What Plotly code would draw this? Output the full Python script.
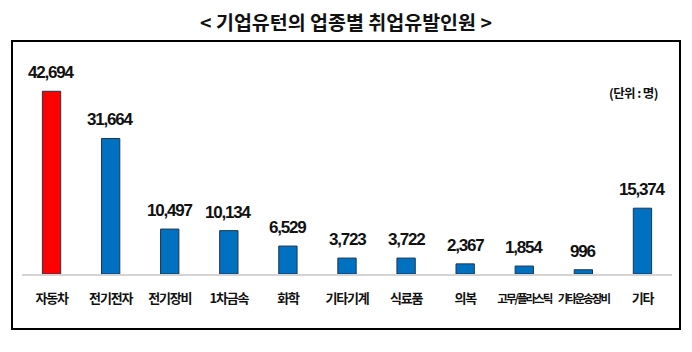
import plotly.graph_objects as go

categories = ["자동차", "전기전자", "전기장비", "1차금속", "화학", "기타기계",
              "식료품", "의복", "고무/플라스틱", "기타운송장비", "기타"]
values = [42694, 31664, 10497, 10134, 6529, 3723, 3722, 2367, 1854, 996, 15374]
bar_colors = ["#FF0000"] + ["#0070C0"] * 10
title_text = "&lt; 기업유턴의 업종별 취업유발인원 &gt;"
unit_text = "(단위 : 명)"

KFONT = "Noto Sans CJK KR"
NUMFONT = "Liberation Sans, Arial, sans-serif"

ticktext = []
for c in categories:
    if len(c) >= 6:
        ticktext.append(f'<span style="font-size:11.5px;letter-spacing:-2px">{c}</span>')
    else:
        ticktext.append(f'<span style="letter-spacing:-1.2px">{c}</span>')

fig = go.Figure()
fig.add_trace(go.Bar(
    x=categories, y=values, width=0.31,
    marker=dict(color=bar_colors, line=dict(color="#1F3550", width=1)),
    hoverinfo="skip",
))

for c, v in zip(categories, values):
    fig.add_annotation(x=c, y=v,
                       text=f'<span style="letter-spacing:-1.2px">{v:,}</span>',
                       showarrow=False, yanchor="bottom", yshift=7,
                       font=dict(family=NUMFONT, size=17, color="#111111", weight="bold"))

fig.add_annotation(xref="paper", yref="paper", x=(633 - 22) / 650, y=(274 - 92) / 214,
                   text=f'<span style="letter-spacing:-0.6px">{unit_text}</span>',
                   showarrow=False, xanchor="center", yanchor="middle",
                   font=dict(family=KFONT, size=12.5, color="#111111", weight="bold"))

# outer frame
fig.add_shape(type="rect", xref="paper", yref="paper",
              x0=(12 - 22) / 650, x1=(680 - 22) / 650,
              y0=(274 - 329) / 214, y1=(274 - 41) / 214,
              line=dict(color="#000000", width=2), fillcolor="rgba(0,0,0,0)", layer="below")

fig.update_layout(
    width=692, height=352,
    margin=dict(l=22, r=20, t=60, b=78),
    paper_bgcolor="white", plot_bgcolor="white",
    showlegend=False,
    title=dict(text=title_text, x=0.5, xanchor="center", y=1 - 23 / 352, yanchor="middle",
               yref="container",
               font=dict(family=KFONT, size=19.5, color="#111111", weight="bold")),
    xaxis=dict(tickmode="array", tickvals=categories, ticktext=ticktext, tickangle=0,
               showline=True, linecolor="#D4D4D4", linewidth=1.5, showgrid=False,
               ticks="", ticklabelstandoff=12,
               tickfont=dict(family=KFONT, size=13, color="#111111", weight="bold")),
    yaxis=dict(range=[0, 50000], visible=False, showgrid=False, zeroline=False),
)

fig.write_html("out.html")
